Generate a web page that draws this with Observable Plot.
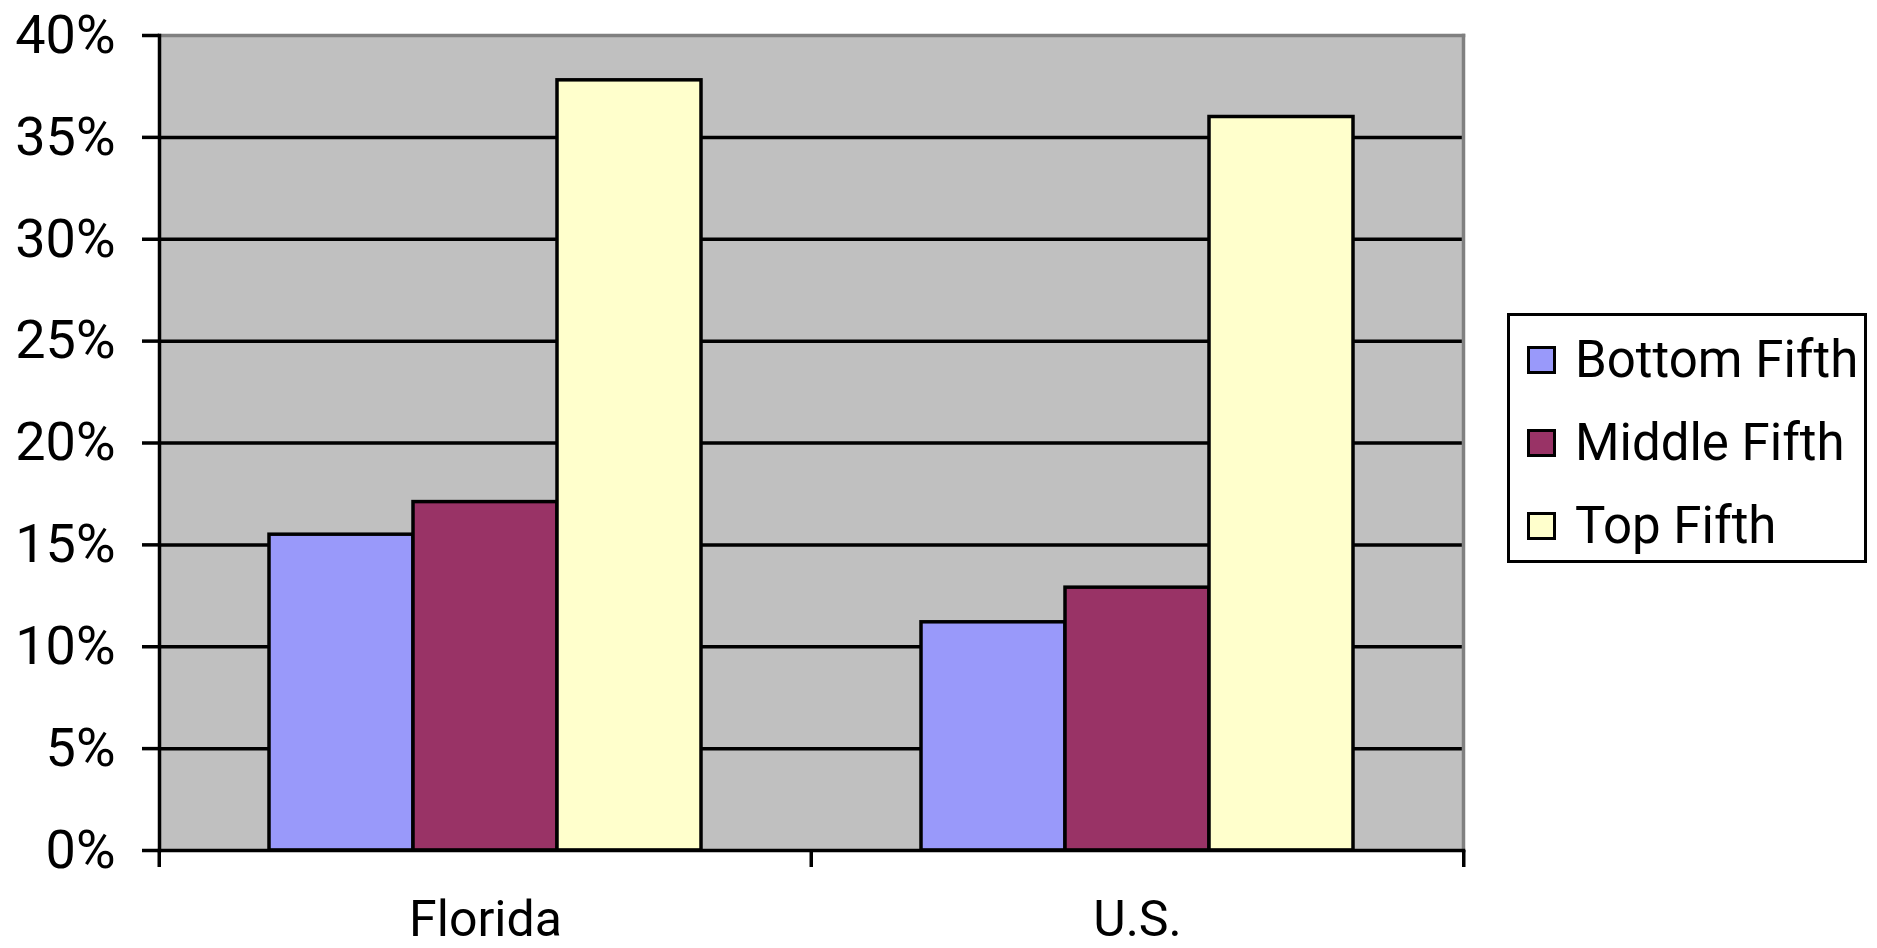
<!DOCTYPE html>
<html>
<head>
<meta charset="utf-8">
<script src="https://cdn.jsdelivr.net/npm/d3@7"></script>
<script src="https://cdn.jsdelivr.net/npm/@observablehq/plot@0.6"></script>
<style>
  html, body { margin: 0; padding: 0; background: #fff; }
  #wrap { position: relative; width: 1877px; height: 948px; overflow: hidden; font-family: Roboto, "Liberation Sans", sans-serif; }
  #legend { position: absolute; left: 1507px; top: 313px; width: 354px; height: 242px; border: 3px solid #000; background: #fff; padding-top: 2px; box-sizing: content-box; }
  .row { display: flex; align-items: center; height: 83px; }
  .sw { width: 23px; height: 22px; border: 3px solid #000; margin-left: 17px; margin-right: 19px; flex: none; }
  .lab { font-size: 51px; color: #000; line-height: 1; white-space: nowrap; }
</style>
</head>
<body>
<div id="wrap"></div>
<script>
const regions = ["Florida", "U.S."];
const quintiles = ["Bottom Fifth", "Middle Fifth", "Top Fifth"];
const floridaValues = [0.155, 0.171, 0.378];
const usValues = [0.112, 0.129, 0.360];
const colors = ["#9999FA", "#993366", "#FFFFCC"];
const yTicks = [0, 0.05, 0.10, 0.15, 0.20, 0.25, 0.30, 0.35, 0.40];

const seriesByRegion = [floridaValues, usValues];
const data = regions.flatMap((r, i) => quintiles.map((q, j) => ({region: r, quintile: q, value: seriesByRegion[i][j]})));

const W = 1877, H = 948, mL = 158, mR = 414, mT = 35, mB = 98;
const bw = (W - mL - mR) / regions.length;

const chart = Plot.plot({
  width: W, height: H,
  marginLeft: mL, marginRight: mR, marginTop: mT, marginBottom: mB,
  style: {fontFamily: "Roboto, 'Liberation Sans', sans-serif", background: "#fff", color: "#000"},
  fx: {domain: regions, padding: 0, label: null},
  x: {domain: quintiles, paddingInner: 0, paddingOuter: 0.75, axis: null},
  y: {domain: [0, 0.4], label: null},
  color: {domain: quintiles, range: colors},
  marks: [
    Plot.frame({facet: "super", fill: "#c0c0c0"}),
    Plot.ruleY(yTicks.slice(1, -1), {stroke: "#000", strokeWidth: 3.5}),
    Plot.barY(data, {fx: "region", x: "quintile", y: "value", fill: "quintile", stroke: "#000", strokeWidth: 3.5}),
    Plot.frame({facet: "super", anchor: "top", stroke: "#808080", strokeWidth: 3.5}),
    Plot.frame({facet: "super", anchor: "right", stroke: "#808080", strokeWidth: 3.5}),
    Plot.frame({facet: "super", anchor: "left", stroke: "#000", strokeWidth: 3.5}),
    Plot.frame({facet: "super", anchor: "bottom", stroke: "#000", strokeWidth: 3.5}),
    Plot.axisY({ticks: yTicks, tickSize: 17, tickPadding: 27, tickFormat: d3.format(".0%"), fontSize: 54, strokeWidth: 3.5, label: null}),
    Plot.axisFx({anchor: "bottom", tickSize: 0, tickPadding: 50, fontSize: 50, label: null}),
    Plot.axisFx({anchor: "bottom", tickSize: 17, text: null, dx: -bw / 2, strokeWidth: 3.5, label: null}),
    Plot.axisFx({anchor: "bottom", ticks: [regions[regions.length - 1]], tickSize: 17, text: null, dx: bw / 2, strokeWidth: 3.5, label: null})
  ]
});

const wrap = document.getElementById("wrap");
wrap.appendChild(chart);

const legend = document.createElement("div");
legend.id = "legend";
quintiles.forEach((q, i) => {
  const row = document.createElement("div");
  row.className = "row";
  const sw = document.createElement("span");
  sw.className = "sw";
  sw.style.background = colors[i];
  const lab = document.createElement("span");
  lab.className = "lab";
  lab.textContent = q;
  row.appendChild(sw);
  row.appendChild(lab);
  legend.appendChild(row);
});
wrap.appendChild(legend);
</script>
</body>
</html>
